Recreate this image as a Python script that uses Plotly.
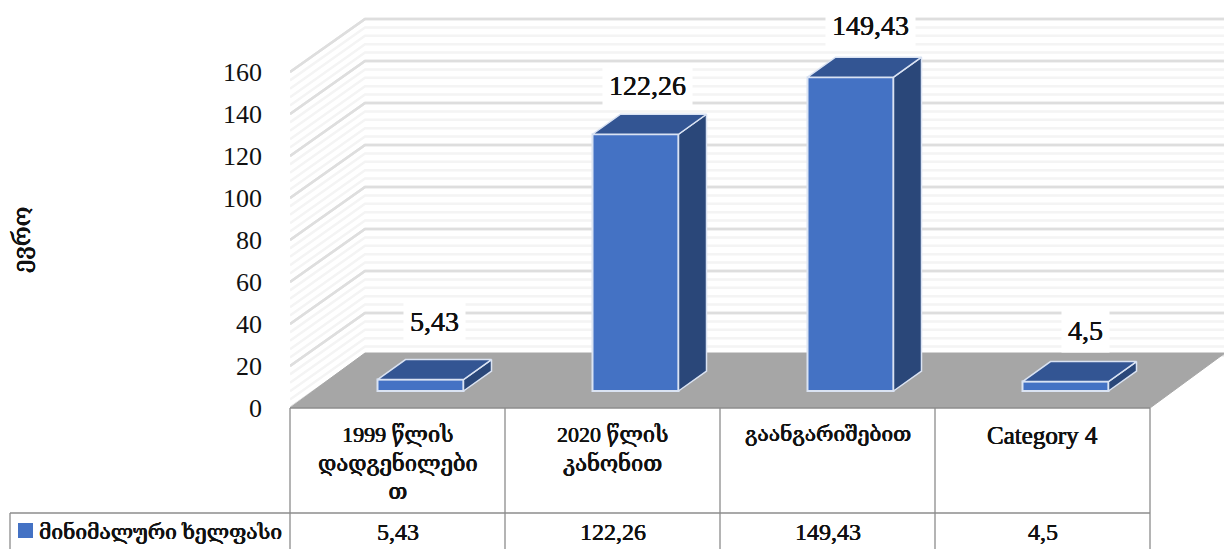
import plotly.graph_objects as go

categories = ["1999 წლის<br>დადგენილები<br>თ", "2020 წლის<br>კანონით", "გაანგარიშებით", "Category 4"]
values = [5.43, 122.26, 149.43, 4.5]
value_labels = ["5,43", "122,26", "149,43", "4,5"]
series_name = "მინიმალური ხელფასი"
axis_title = "ევრო"
y_ticks = list(range(0, 161, 20))
minor_ticks = list(range(0, 161, 4))

W, H = 1224, 549
X0, Y0 = 290, 408      # pixel origin of the value axis
CAT_PX = 215
UNIT_PX = 2.1
FONT = "Liberation Serif, DejaVu Serif, DejaVu Sans, serif"
INK = "#111111"
THICK = "0.35px 0 0 #111111, -0.35px 0 0 #111111"

def dx(px):
    return px / CAT_PX

def dy(px):
    return px / UNIT_PX

def ypaper(py):
    return 1 - py / H

WALL_X, WALL_Y = dx(75), dy(53)
FLOOR_Y = dy(55)
X_MAX = (W - X0) / CAT_PX
BAR_W = dx(86)
BAR_X, BAR_BASE = dx(23), dy(17)
SIDE_X, SIDE_Y = dx(28), dy(20)
EDGE = "#DAE3F3"
FRONT, TOP, SIDE = "#4472C4", "#335593", "#2A4779"

shapes = []
# wall grid
for v in minor_ticks + y_ticks:
    major = v % 20 == 0
    shapes.append(dict(
        type="path", layer="below",
        path=f"M 0 {v} L {WALL_X} {v + WALL_Y} L {X_MAX} {v + WALL_Y}",
        line=dict(color="#DEDEDE" if major else "#F4F4F4", width=2.5),
        xref="x", yref="y"))
# floor
shapes.append(dict(
    type="path", layer="below",
    path=f"M 0 0 L 4 0 L {4 + WALL_X} {FLOOR_Y} L {WALL_X} {FLOOR_Y} Z",
    fillcolor="#A6A6A6", line=dict(color="#A6A6A6", width=1), xref="x", yref="y"))

# data table
TBL = "#8C8C8C"
def tline(x0, y0, x1, y1):
    shapes.append(dict(type="line", x0=x0, y0=ypaper(y0), x1=x1, y1=ypaper(y1),
                       xref="paper", yref="paper", line=dict(color=TBL, width=1.3)))
def px(x):
    return x / W
for i in range(5):
    xp = px(X0 + i * CAT_PX)
    tline(xp, 408, xp, 549)
tline(px(10), 513, px(1150), 513)
tline(px(10), 513, px(10), 549)
tline(px(290), 408, px(1150), 408)
shapes.append(dict(type="rect", x0=px(18), x1=px(33), y0=ypaper(523), y1=ypaper(538),
                   xref="paper", yref="paper", fillcolor=FRONT, line=dict(width=0)))

fig = go.Figure()

centers = [i + 0.5 + BAR_X for i in range(len(values))]

fig.add_trace(go.Bar(
    x=centers, y=values, base=[BAR_BASE] * len(values), width=BAR_W,
    marker=dict(color=FRONT, line=dict(color=EDGE, width=2)),
    showlegend=False, name=series_name, hoverinfo="skip"))

for c, v in zip(centers, values):
    l, r = c - BAR_W / 2, c + BAR_W / 2
    b, t = BAR_BASE, BAR_BASE + v
    fig.add_trace(go.Scatter(
        x=[r, r + SIDE_X, r + SIDE_X, r, r], y=[b, b + SIDE_Y, t + SIDE_Y, t, b],
        mode="lines", fill="toself", fillcolor=SIDE, line=dict(color=EDGE, width=1.5),
        showlegend=False, hoverinfo="skip"))
    fig.add_trace(go.Scatter(
        x=[l, l + SIDE_X, r + SIDE_X, r, l], y=[t, t + SIDE_Y, t + SIDE_Y, t, t],
        mode="lines", fill="toself", fillcolor=TOP, line=dict(color=EDGE, width=1.5),
        showlegend=False, hoverinfo="skip"))

annotations = []
label_dx = [14, 12, 20, 20]
label_dy = [58, 49, 52, 51]
for i, (c, v, t) in enumerate(zip(centers, values, value_labels)):
    annotations.append(dict(
        x=c, y=BAR_BASE + v, xref="x", yref="y", text=t, showarrow=False,
        xshift=label_dx[i], yshift=label_dy[i], bgcolor="white",
        font=dict(family=FONT, size=28, color=INK, shadow=THICK), borderpad=6))

cat_sizes = [22, 22, 21, 25]
for i, (cat, t) in enumerate(zip(categories, value_labels)):
    annotations.append(dict(
        x=i + 0.5, y=ypaper(420), xref="x", yref="paper", text=cat, showarrow=False,
        yanchor="top", align="center",
        font=dict(family=FONT, size=cat_sizes[i], color=INK, shadow=THICK)))
    annotations.append(dict(
        x=i + 0.5, y=ypaper(532), xref="x", yref="paper", text=t, showarrow=False,
        yanchor="middle", font=dict(family=FONT, size=24, color=INK, shadow=THICK)))

annotations.append(dict(
    x=px(37), y=ypaper(532), xref="paper", yref="paper", text=series_name, showarrow=False,
    xanchor="left", yanchor="middle", font=dict(family=FONT, size=21, color=INK, shadow=THICK)))
annotations.append(dict(
    x=px(22), y=ypaper(240), xref="paper", yref="paper", text=axis_title, showarrow=False,
    textangle=-90, xanchor="center", yanchor="middle",
    font=dict(family=FONT, size=24, color=INK, shadow=THICK)))

fig.update_layout(
    width=W, height=H, autosize=False,
    margin=dict(l=0, r=0, t=0, b=0, autoexpand=False),
    paper_bgcolor="white", plot_bgcolor="rgba(0,0,0,0)",
    shapes=shapes, annotations=annotations, barmode="overlay", showlegend=False,
    xaxis=dict(domain=[X0 / W, 1], range=[0, X_MAX], visible=False, fixedrange=True),
    yaxis=dict(domain=[(H - Y0) / H, 1], range=[0, Y0 / UNIT_PX],
               tickmode="array", tickvals=y_ticks, ticktext=[str(v) for v in y_ticks],
               showgrid=False, zeroline=False, showline=False, ticks="",
               ticklabelstandoff=27,
               tickfont=dict(family=FONT, size=26, color=INK), fixedrange=True),
)
fig.write_html("out.html", config=dict(displayModeBar=False),
               post_script="document.body.style.margin='0';document.body.style.overflow='hidden';")
